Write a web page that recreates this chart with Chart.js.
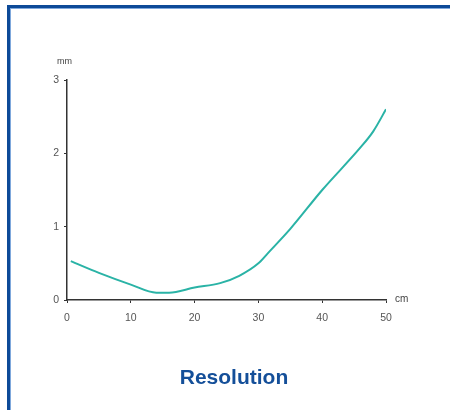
<!DOCTYPE html>
<html>
<head>
<meta charset="utf-8">
<script src="https://cdn.jsdelivr.net/npm/chart.js@4"></script>
<style>
    body { margin: 0; background: #fff; }
    #frame {
        position: absolute; left: 7px; top: 5px; width: 460px; height: 420px;
        border-left: 3px solid #0d4a98; border-top: 3px solid #0d4a98;
        box-shadow: inset 1px 1px 0 #7fa8dc;
    }
    #wrap { position: absolute; left: 0; top: 0; width: 450px; height: 410px; }
    #title {
        position: absolute; left: 0; width: 468px; top: 365px; text-align: center;
        font-family: "Liberation Sans", Arial, sans-serif; font-weight: bold;
        font-size: 21px; color: #144f99;
    }
</style>
</head>
<body>
<div id="frame"></div>
<div id="wrap"><canvas id="chart" width="450" height="410"></canvas></div>
<div id="title">Resolution</div>
<script>
const distance = [0.6, 5, 10, 14, 16, 20, 24, 27, 30, 31.5, 35, 40, 46, 48, 50];
const blur = [0.53, 0.37, 0.21, 0.1, 0.1, 0.17, 0.23, 0.33, 0.5, 0.64, 0.97, 1.5, 2.08, 2.3, 2.6];
const xTicks = [0, 10, 20, 30, 40, 50];
const yTicks = [0, 1, 2, 3];

// unit labels at the ends of the axes
const unitLabels = {
    id: 'unitLabels',
    afterDraw(chart) {
        const ctx = chart.ctx;
        const area = chart.chartArea;
        ctx.save();
        ctx.fillStyle = '#444';
        ctx.font = '9px "Liberation Sans", Arial, sans-serif';
        ctx.textBaseline = 'middle';
        ctx.textAlign = 'left';
        ctx.fillText('mm', area.left - 10, area.top - 18);
        ctx.font = '10px "Liberation Sans", Arial, sans-serif';
        ctx.fillText('cm', area.right + 9, area.bottom - 1);
        ctx.restore();
    }
};

const ctx = document.getElementById('chart').getContext('2d');
new Chart(ctx, {
    type: 'line',
    data: {
        datasets: [{
            data: distance.map((x, i) => ({ x: x, y: blur[i] })),
            borderColor: '#2ab3a6',
            borderWidth: 2,
            pointRadius: 0,
            tension: 0.3,
            cubicInterpolationMode: 'monotone',
            fill: false
        }]
    },
    options: {
        responsive: false,
        animation: false,
        layout: { padding: { left: 45, top: 80, right: 64, bottom: 80 } },
        plugins: { legend: { display: false }, tooltip: { enabled: false } },
        scales: {
            x: {
                type: 'linear',
                min: 0, max: 50,
                afterBuildTicks: s => { s.ticks = xTicks.map(v => ({ value: v })); },
                afterFit: s => { s.height = 30; },
                grid: { drawOnChartArea: false, tickLength: 3, color: '#333' },
                border: { color: '#333', width: 1.5 },
                ticks: {
                    color: '#555', padding: 9,
                    font: { family: '"Liberation Sans", Arial, sans-serif', size: 10.5 }
                }
            },
            y: {
                min: 0, max: 3,
                afterBuildTicks: s => { s.ticks = yTicks.map(v => ({ value: v })); },
                afterFit: s => { s.width = 22; },
                grid: { drawOnChartArea: false, tickLength: 3, color: '#333' },
                border: { color: '#333', width: 1.5 },
                ticks: {
                    color: '#555', padding: 5,
                    font: { family: '"Liberation Sans", Arial, sans-serif', size: 10.5 }
                }
            }
        }
    },
    plugins: [unitLabels]
});
</script>
</body>
</html>
